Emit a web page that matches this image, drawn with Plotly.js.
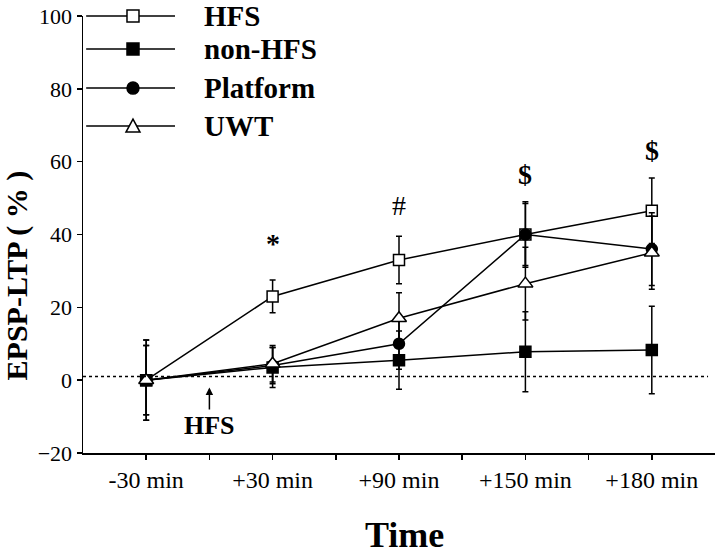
<!DOCTYPE html>
<html>
<head>
<meta charset="utf-8">
<script src="https://cdn.plot.ly/plotly-3.0.1.min.js"></script>
<style>
  html, body { margin: 0; padding: 0; background: #fff; }
  #chart { width: 720px; height: 556px; }
</style>
</head>
<body>
<div id="chart"></div>
<script>
// categorias do eixo x
const categories = ['-30 min', '+30 min', '+90 min', '+150 min', '+180 min']
const xPos = [0, 1, 2, 3, 4]

// valores (media e erro)
const hfs = [0, 23, 33, 40, 46.5]
const hfsErr = [11, 4.5, 6.5, 8.5, 9]
const nonHfs = [0, 3.5, 5.5, 7.8, 8.3]
const nonHfsErr = [9.5, 5.5, 8, 11, 12]
const platform = [0, 4, 10, 40, 36]
const platformErr = [9.5, 5, 7, 9, 10]
const uwt = [0, 4.5, 17, 26.5, 35]
const uwtErr = [11, 5, 7, 10, 10]

// marcas de significancia
const sigX = [1, 2, 3, 4]
const sigY = [37.5, 48, 56.5, 63]
const sigText = ['*', '#', '$', '$']

const serif = 'Liberation Serif, Times New Roman, serif'

function serie(name, y, err, symbol, fill, size) {
  return {
    x: xPos,
    y: y,
    name: name,
    type: 'scatter',
    mode: 'lines+markers',
    line: { color: 'black', width: 1.5 },
    marker: { symbol: symbol, size: size, color: fill, line: { color: 'black', width: 1.5 } },
    error_y: { type: 'data', array: err, visible: true, color: 'black', thickness: 1.5, width: 3 },
    cliponaxis: false,
    showlegend: false
  }
}

// ordem de desenho como no original (UWT por cima)
const traces = [
  serie('HFS', hfs, hfsErr, 'square', 'white', 11),
  serie('non-HFS', nonHfs, nonHfsErr, 'square', 'black', 11),
  serie('Platform', platform, platformErr, 'circle', 'black', 11),
  serie('UWT', uwt, uwtErr, 'triangle-up', 'white', 13)
]

// ticks: rotulos nas categorias, tracinhos nos meios
const tickVals = []
const tickText = []
for (let i = 0; i < categories.length; i++) {
  tickVals.push(xPos[i]); tickText.push(categories[i])
  if (i < categories.length - 1) { tickVals.push(xPos[i] + 0.5); tickText.push('') }
}

// legenda desenhada a mao (linhas longas como no original)
const legendNames = ['HFS', 'non-HFS', 'Platform', 'UWT']
const legendRows = [1.0, 0.9245, 0.835, 0.748]
const shapes = [{
  type: 'line', xref: 'paper', yref: 'y', x0: 0, x1: 0.989, y0: 1, y1: 1,
  line: { color: 'black', width: 1.5, dash: 'dot' }
}]
const annotations = []
legendNames.forEach((nm, i) => {
  const yy = legendRows[i]
  shapes.push({ type: 'line', xref: 'paper', yref: 'paper', x0: 0.005, x1: 0.1456, y0: yy, y1: yy,
                line: { color: 'black', width: 1.5 } })
  const base = { xref: 'paper', yref: 'paper', xsizemode: 'pixel', ysizemode: 'pixel',
                 xanchor: 0.0791, yanchor: yy, line: { color: 'black', width: 1.5 } }
  if (i === 0) shapes.push(Object.assign({ type: 'rect', x0: -6, x1: 6, y0: -6, y1: 6, fillcolor: 'white' }, base))
  if (i === 1) shapes.push(Object.assign({ type: 'rect', x0: -6, x1: 6, y0: -6, y1: 6, fillcolor: 'black' }, base))
  if (i === 2) shapes.push(Object.assign({ type: 'circle', x0: -6, x1: 6, y0: -6, y1: 6, fillcolor: 'black' }, base))
  if (i === 3) shapes.push(Object.assign({ type: 'path', path: 'M-7,-6 L7,-6 L0,7 Z', fillcolor: 'white' }, base))
  annotations.push({ text: '<b>' + nm + '</b>', xref: 'paper', yref: 'paper', x: 0.188, y: yy,
                     xanchor: 'left', yanchor: 'middle', showarrow: false,
                     font: { family: serif, size: 29, color: 'black' } })
})

sigText.forEach((t, i) => {
  annotations.push({ text: t === '#' ? t : '<b>' + t + '</b>', x: sigX[i], y: sigY[i], xref: 'x', yref: 'y',
                     showarrow: false, yanchor: 'middle',
                     font: { family: serif, size: 28, color: 'black' } })
})

// seta do HFS
annotations.push({ text: '<b>HFS</b>', x: 0.5, y: -2, xref: 'x', yref: 'y', showarrow: true,
                   ax: 0, ay: 38, arrowhead: 2, arrowsize: 1, arrowwidth: 1.5, arrowcolor: 'black',
                   font: { family: serif, size: 26, color: 'black' } })

// titulos dos eixos
annotations.push({ text: '<b>EPSP-LTP ( % )</b>', xref: 'paper', yref: 'paper', x: -0.104, y: 0.407,
                   textangle: -90, showarrow: false, xanchor: 'center', yanchor: 'middle',
                   font: { family: serif, size: 30, color: 'black' } })
annotations.push({ text: '<b>Time</b>', xref: 'paper', yref: 'paper', x: 0.508, y: -0.187,
                   showarrow: false, xanchor: 'center', yanchor: 'middle',
                   font: { family: serif, size: 36, color: 'black' } })

const layout = {
  width: 720,
  height: 556,
  margin: { l: 83, r: 5, t: 16, b: 103 },
  paper_bgcolor: 'white',
  plot_bgcolor: 'white',
  font: { family: serif, color: 'black' },
  showlegend: false,
  xaxis: {
    range: [-0.5, 4.5],
    tickmode: 'array', tickvals: tickVals, ticktext: tickText,
    ticks: 'outside', ticklen: 5, tickwidth: 1.5, tickcolor: 'black',
    showline: true, linewidth: 1.5, linecolor: 'black',
    showgrid: false, zeroline: false,
    tickfont: { family: serif, size: 24, color: 'black' }
  },
  yaxis: {
    range: [-20, 100], dtick: 20,
    ticks: 'outside', ticklen: 5, tickwidth: 1.5, tickcolor: 'black',
    showline: true, linewidth: 1.5, linecolor: 'black',
    showgrid: false, zeroline: false,
    tickfont: { family: serif, size: 22, color: 'black' }
  },
  shapes: shapes,
  annotations: annotations
}

Plotly.newPlot('chart', traces, layout, { displayModeBar: false, staticPlot: true })
</script>
</body>
</html>
